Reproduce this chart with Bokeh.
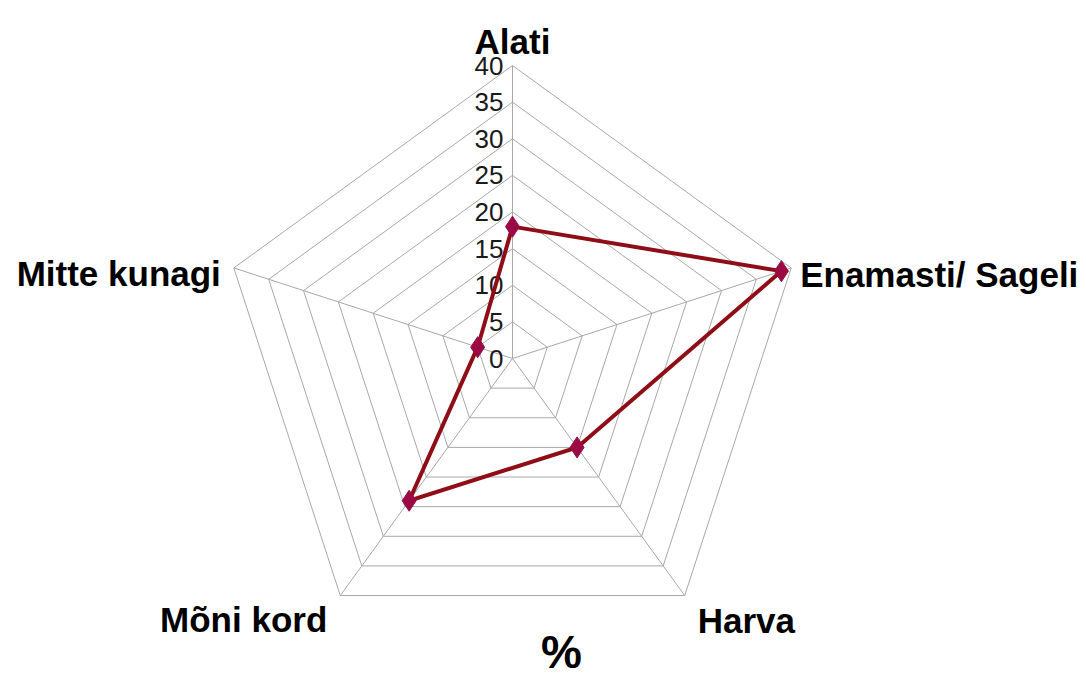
import numpy as np
from bokeh.plotting import figure
from bokeh.models import Range1d, ColumnDataSource
from bokeh.core.properties import value
from bokeh.embed import file_html
from bokeh.resources import INLINE

categories = ["Alati", "Enamasti/ Sageli", "Harva", "Mõni kord", "Mitte kunagi"]
values = [18, 38.6, 15, 24, 5]
tick_values = [0, 5, 10, 15, 20, 25, 30, 35, 40]
tick_labels = ["0", "5", "10", "15", "20", "25", "30", "35", "40"]
title = "%"

W, H = 1084, 678
R_MAX = 40
PX = 293.0 / R_MAX          # pixels per unit
CX, CY = 512.0, 358.0       # centre in figure pixels

p = figure(width=W, height=H, output_backend="svg", toolbar_location=None,
           x_range=Range1d(-CX / PX, (W - CX) / PX),
           y_range=Range1d(-(H - CY) / PX, CY / PX),
           min_border=0)
p.axis.visible = False
p.grid.visible = False
p.outline_line_color = None
p.background_fill_color = "white"

n = len(categories)
ang = np.arange(n) * 2 * np.pi / n
sx, sy = np.sin(ang), np.cos(ang)

grid_col = "#a8a8a8"
# concentric pentagons
for t in tick_values[1:]:
    xs = list(t * sx) + [t * sx[0]]
    ys = list(t * sy) + [t * sy[0]]
    p.line(xs, ys, line_color=grid_col, line_width=1)
# spokes
for i in range(n):
    p.line([0, R_MAX * sx[i]], [0, R_MAX * sy[i]], line_color=grid_col, line_width=1)

# tick labels on top spoke
p.text(x=[0] * len(tick_values), y=tick_values, text=tick_labels,
       text_align="right", text_baseline="middle", x_offset=-9,
       text_font=value("Liberation Sans"), text_font_size="26px", text_color="#1a1a1a")

# data series
vx = [v * sx[i] for i, v in enumerate(values)]
vy = [v * sy[i] for i, v in enumerate(values)]
p.line(vx + [vx[0]], vy + [vy[0]], line_color="#8e0d16", line_width=4, line_join="miter")
p.scatter(vx, vy, marker="diamond", size=21, fill_color="#9c0a45",
          line_color="#9c0a45", line_width=1)

# category labels
lx = [R_MAX * sx[i] for i in range(n)]
ly = [R_MAX * sy[i] for i in range(n)]
src = ColumnDataSource(dict(
    x=lx, y=ly, text=categories,
    align=["center", "left", "left", "right", "right"],
    xo=[0, 9, 13, -13, -13],
    yo=[-24, 7, 25, 24, 6],
))
p.text(x="x", y="y", text="text", source=src, text_align="align",
       text_baseline="alphabetic", x_offset="xo", y_offset="yo",
       text_font=value("Liberation Sans"), text_font_style="bold",
       text_font_size="35px", text_color="#000000")

# title at bottom
p.text(x=[(561 - CX) / PX], y=[-(H - CY) / PX], text=[title],
       text_align="center", text_baseline="bottom", y_offset=-1,
       text_font=value("Liberation Sans"), text_font_style="bold",
       text_font_size="46px", text_color="#000000")

open("out.html", "w").write(file_html(p, INLINE))
